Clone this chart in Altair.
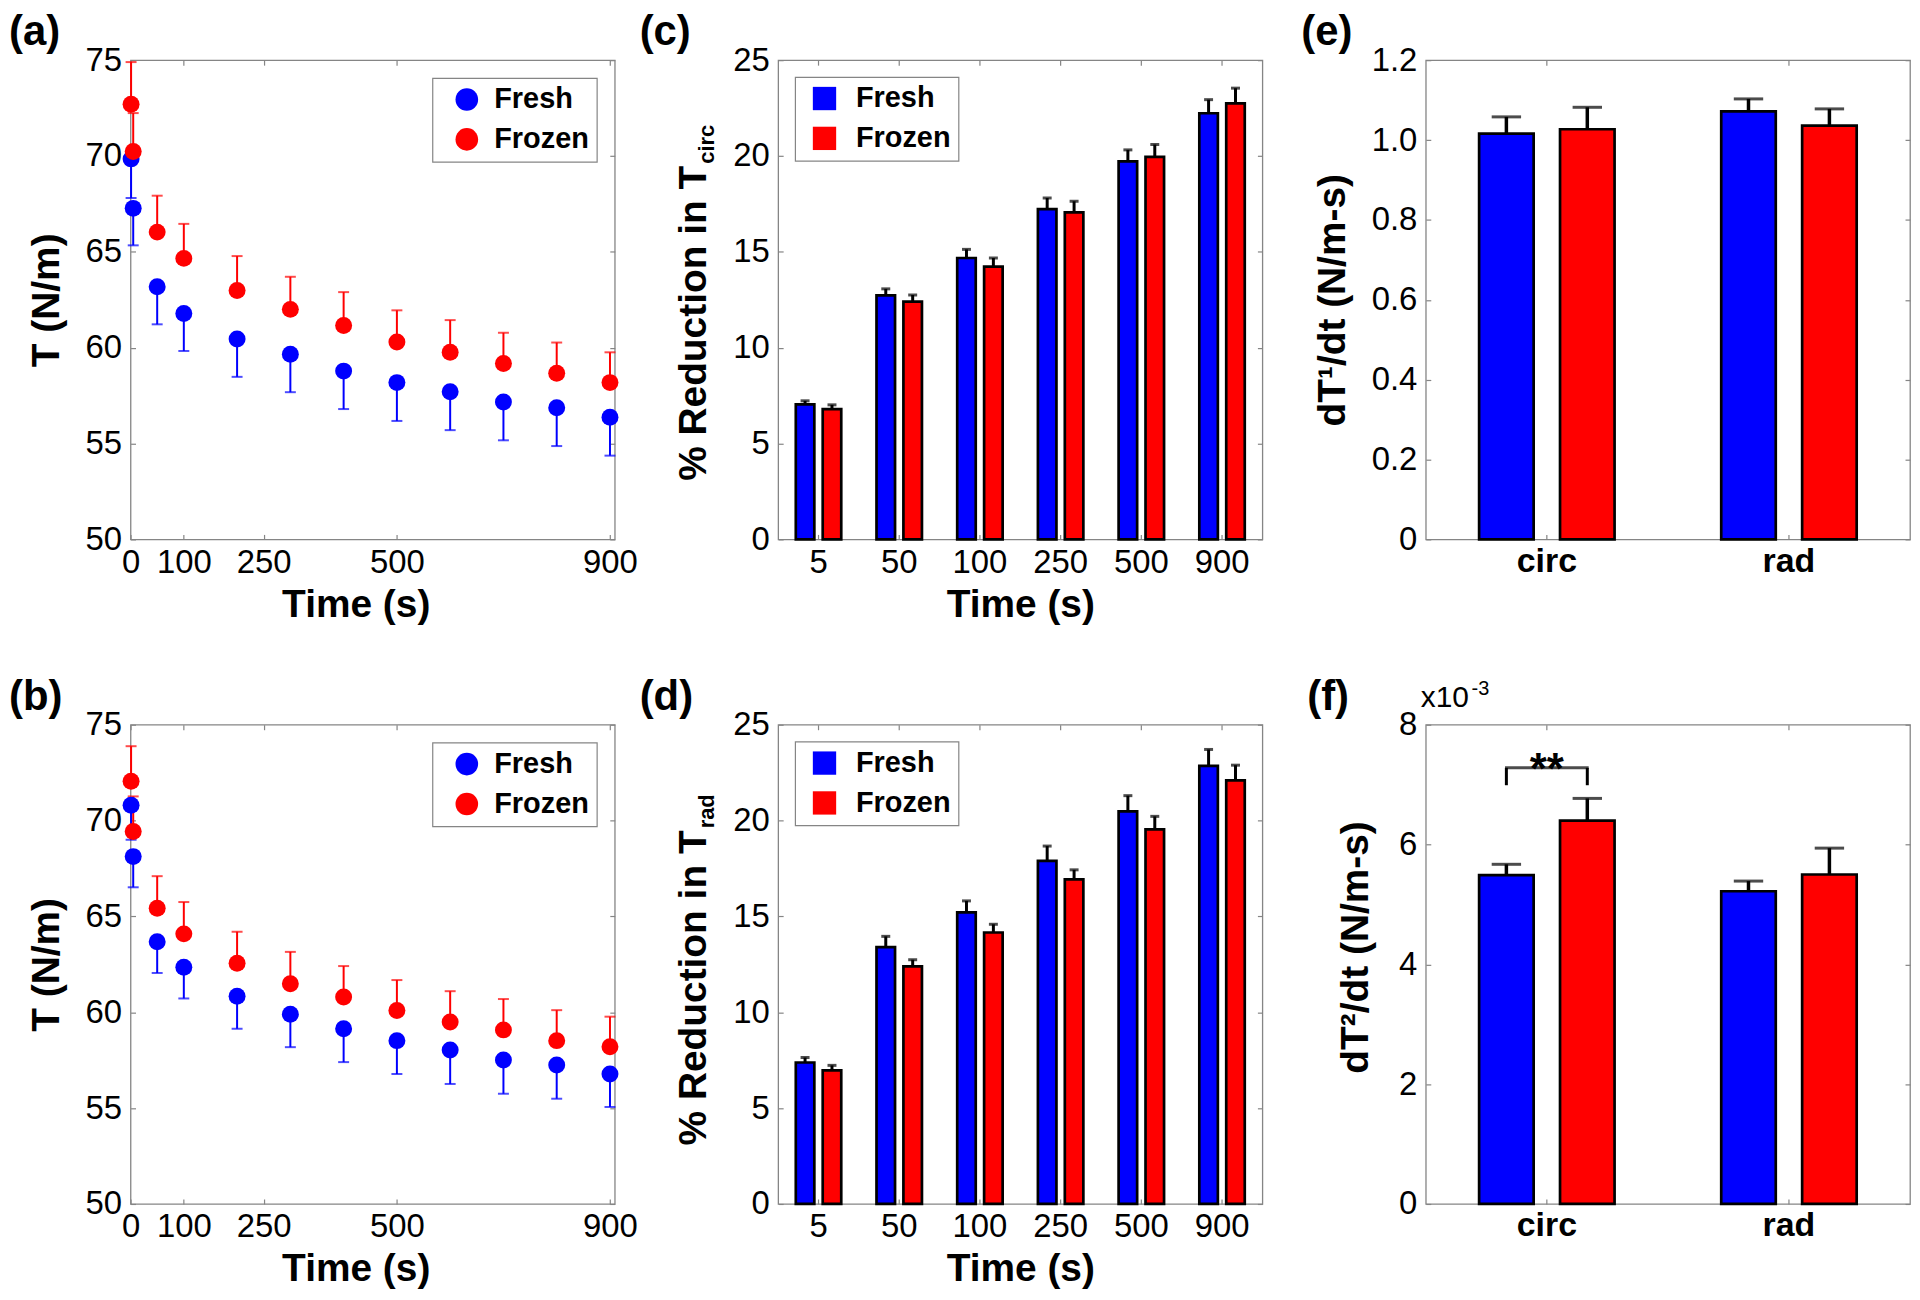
import altair as alt
import pandas as pd

FONT = "Liberation Sans"
GRAY = "#858585"
BLUE = "#0000FF"
RED = "#FF0000"
CONDS = ["Fresh", "Frozen"]
W, H = 486, 481
TICK_FONT = 33

# ---------------- data ----------------
scatter_time = [1, 5, 50, 100, 200, 300, 400, 500, 600, 700, 800, 900]
scatter_xticks = [0, 100, 250, 500, 900]
scatter_yticks = [50, 55, 60, 65, 70, 75]

a_fresh = [69.85, 67.27, 63.18, 61.78, 60.45, 59.66, 58.78, 58.18, 57.70, 57.17, 56.87, 56.37]
a_fresh_err = [2.04, 1.93, 1.96, 1.95, 1.97, 1.98, 1.98, 2.00, 2.00, 2.00, 2.00, 2.00]
a_frozen = [72.70, 70.24, 66.03, 64.66, 62.98, 62.00, 61.16, 60.30, 59.76, 59.18, 58.67, 58.18]
a_frozen_err = [2.20, 2.00, 1.90, 1.80, 1.80, 1.70, 1.74, 1.65, 1.68, 1.60, 1.60, 1.58]

b_fresh = [70.80, 68.12, 63.68, 62.35, 60.84, 59.90, 59.14, 58.52, 58.03, 57.51, 57.25, 56.78]
b_fresh_err = [1.80, 1.60, 1.63, 1.63, 1.70, 1.72, 1.74, 1.74, 1.77, 1.76, 1.76, 1.72]
b_frozen = [72.05, 69.43, 65.43, 64.09, 62.56, 61.49, 60.80, 60.09, 59.49, 59.08, 58.52, 58.20]
b_frozen_err = [1.83, 1.83, 1.67, 1.66, 1.64, 1.66, 1.61, 1.59, 1.61, 1.61, 1.59, 1.57]

bar_times = ["5", "50", "100", "250", "500", "900"]
bar_yticks = [0, 5, 10, 15, 20, 25]

c_fresh = [7.04, 12.73, 14.68, 17.23, 19.72, 22.23]
c_fresh_err = [0.19, 0.34, 0.45, 0.58, 0.60, 0.71]
c_frozen = [6.80, 12.40, 14.23, 17.06, 19.96, 22.75]
c_frozen_err = [0.22, 0.35, 0.45, 0.58, 0.64, 0.79]

d_fresh = [7.38, 13.40, 15.21, 17.90, 20.48, 22.85]
d_fresh_err = [0.26, 0.56, 0.60, 0.77, 0.82, 0.86]
d_frozen = [6.97, 12.39, 14.16, 16.93, 19.54, 22.10]
d_frozen_err = [0.26, 0.35, 0.43, 0.50, 0.68, 0.79]

dirs = ["circ", "rad"]
e_yticks = [0, 0.2, 0.4, 0.6, 0.8, 1.0, 1.2]
e_fresh = [1.016, 1.072]
e_fresh_err = [0.042, 0.031]
e_frozen = [1.027, 1.036]
e_frozen_err = [0.055, 0.042]

f_yticks = [0, 2, 4, 6, 8]          # in units of 1e-3
f_fresh = [5.49, 5.22]
f_fresh_err = [0.18, 0.17]
f_frozen = [6.40, 5.50]
f_frozen_err = [0.37, 0.44]

sig_dir = "circ"
sig_low = 6.99
sig_high = 7.28
sig_text = "**"

panel_names = ["(a)", "(b)", "(c)", "(d)", "(e)", "(f)"]


# ---------------- helpers ----------------
def inner_axis(orient, values=None, band=False):
    kw = dict(orient=orient, labels=False, title=None, domain=False, grid=False,
              ticks=True, tickSize=5, tickColor=GRAY, tickWidth=1.2, offset=-5)
    if values is not None:
        kw["values"] = values
    if band:
        kw["bandPosition"] = 0.5
    return alt.Axis(**kw)


def label_axis(orient, title=None, values=None, band=False, size=TICK_FONT, bold=False,
               pad=10, title_pad=10, **extra):
    kw = dict(orient=orient, ticks=False, tickSize=0, domain=False, grid=False,
              labelFontSize=size, labelPadding=pad, labelFont=FONT, labelColor="black",
              labelFlush=False, labelOverlap=False,
              labelFontWeight="bold" if bold else "normal",
              titleFont=FONT, titleFontSize=39, titleFontWeight="bold",
              titleColor="black", titlePadding=title_pad, title=title)
    if values is not None:
        kw["values"] = values
    if band:
        kw["bandPosition"] = 0.5
        kw["labelAngle"] = 0
    kw.update(extra)
    return alt.Axis(**kw)


def text_layer(txt, x, y, size, bold=True, align="left", angle=None):
    df = pd.DataFrame({"s": [txt]})
    mk = dict(font=FONT, fontSize=size, fontWeight="bold" if bold else "normal",
              align=align, baseline="alphabetic", color="black")
    if angle is not None:
        mk["angle"] = angle
    return alt.Chart(df).mark_text(**mk).encode(
        text="s:N", x=alt.value(x), y=alt.value(y))


def legend_def(orient, offset, shape, size, sym_off, lab_off):
    return alt.Legend(title=None, orient=orient, offset=offset, symbolType=shape,
                      symbolSize=size, symbolOffset=sym_off, labelOffset=lab_off,
                      labelExpr="datum.label + '\u00a0\u00a0'")


# ---------------- scatter panels (a), (b) ----------------
def scatter_panel(fresh, fresh_err, frozen, frozen_err, name):
    n = len(scatter_time)
    df = pd.DataFrame({
        "t": scatter_time * 2,
        "cond": ["Fresh"] * n + ["Frozen"] * n,
        "T": fresh + frozen,
        "err": fresh_err + frozen_err,
    })
    df["lo"] = df["T"] - df["err"]
    df["hi"] = df["T"] + df["err"]
    xs = alt.Scale(domain=[0, 909], nice=False, zero=False)
    ys = alt.Scale(domain=[50, 75], nice=False, zero=False)
    base = alt.Chart(df)
    fr = base.transform_filter(alt.datum.cond == "Fresh")
    fz = base.transform_filter(alt.datum.cond == "Frozen")
    X0 = alt.X("t:Q", scale=xs, axis=None)

    fresh_rule = fr.mark_rule(color=BLUE, strokeWidth=2).encode(
        x=X0, y=alt.Y("lo:Q", scale=ys, axis=None), y2="T:Q")
    fresh_cap = fr.mark_tick(color=BLUE, orient="horizontal", size=11, thickness=2).encode(
        x=X0, y=alt.Y("lo:Q", scale=ys, axis=None))
    frozen_rule = fz.mark_rule(color=RED, strokeWidth=2).encode(
        x=X0, y=alt.Y("T:Q", scale=ys, axis=None), y2="hi:Q")
    frozen_cap = fz.mark_tick(color=RED, orient="horizontal", size=11, thickness=2).encode(
        x=X0, y=alt.Y("hi:Q", scale=ys, axis=None))

    pts = base.mark_circle(size=289, opacity=1).encode(
        x=alt.X("t:Q", scale=xs,
                axis=label_axis("bottom", title="Time (s)", values=scatter_xticks,
                                pad=7, title_pad=6, titleX=226)),
        y=alt.Y("T:Q", scale=ys,
                axis=label_axis("left", title="T (N/m)", values=scatter_yticks,
                                pad=9, title_pad=19)),
        color=alt.Color("cond:N", scale=alt.Scale(domain=CONDS, range=[BLUE, RED]),
                        legend=legend_def("top-right", 18, "circle", 515, 13, 13)),
    )
    tick_bl = base.mark_point(opacity=0).encode(
        x=alt.X("t:Q", scale=xs, axis=inner_axis("bottom", scatter_xticks)),
        y=alt.Y("T:Q", scale=ys, axis=inner_axis("left", scatter_yticks)))
    tick_tr = base.mark_point(opacity=0).encode(
        x=alt.X("t:Q", scale=xs, axis=inner_axis("top", scatter_xticks)),
        y=alt.Y("T:Q", scale=ys, axis=inner_axis("right", scatter_yticks)))
    lab = text_layer(name, -122, -15, 42)
    return alt.layer(fresh_rule, fresh_cap, frozen_rule, frozen_cap, pts,
                     tick_bl, tick_tr, lab).resolve_axis(
        x="independent", y="independent").properties(width=W, height=H)


# ---------------- bar panels ----------------
def bar_panel(cats, fresh, fresh_err, frozen, frozen_err, name, name_x, ydomain, yticks,
              kind, sub=None):
    n = len(cats)
    df = pd.DataFrame({
        "cat": cats * 2,
        "cond": ["Fresh"] * n + ["Frozen"] * n,
        "val": fresh + frozen,
        "err": fresh_err + frozen_err,
    })
    df["hi"] = df["val"] + df["err"]
    xs = alt.Scale(domain=cats, paddingInner=0, paddingOuter=0)
    if kind == "time":
        offs = alt.Scale(domain=CONDS, paddingInner=0.311, paddingOuter=0.655)
        cap, stem = 9, 3
    else:
        offs = alt.Scale(domain=CONDS, paddingInner=0.326, paddingOuter=0.659)
        cap, stem = 29.5, 3.5
    ys = alt.Scale(domain=ydomain, nice=False, zero=True)
    base = alt.Chart(df)
    XO = alt.XOffset("cond:N", scale=offs)
    X0 = alt.X("cat:N", scale=xs, axis=None)

    if kind == "time":
        xax = label_axis("bottom", title="Time (s)", band=True, pad=7, title_pad=6)
        yax = label_axis("left", title=None, values=yticks, pad=9)
        leg = legend_def("top-left", 17, "square", 548, 8, 17)
    else:
        xax = label_axis("bottom", title=None, band=True, size=34, bold=True, pad=5)
        if kind == "e":
            yax = label_axis("left", title="dT\u00b9/dt (N/m-s)", values=yticks, pad=9,
                             title_pad=19,
                             labelExpr="datum.value == 0 ? '0' : format(datum.value, '.1f')")
        else:
            yax = label_axis("left", title="dT\u00b2/dt (N/m-s)", values=yticks, pad=9,
                             title_pad=23, titleY=223)
        leg = None

    color_kw = dict(scale=alt.Scale(domain=CONDS, range=[BLUE, RED]))
    color_kw["legend"] = leg

    fill = base.mark_bar().encode(
        x=alt.X("cat:N", scale=xs, axis=xax), xOffset=XO,
        y=alt.Y("val:Q", scale=ys, stack=None, axis=yax),
        color=alt.Color("cond:N", **color_kw))
    outline = base.mark_bar(fillOpacity=0, stroke="black", strokeWidth=2.7).encode(
        x=X0, xOffset=XO, y=alt.Y("val:Q", scale=ys, stack=None, axis=None))
    rule = base.mark_rule(color="black", strokeWidth=stem).encode(
        x=X0, xOffset=XO, y=alt.Y("val:Q", scale=ys, axis=None), y2="hi:Q")
    capm = base.mark_tick(color="black", orient="horizontal", size=cap, thickness=3).encode(
        x=X0, xOffset=XO, y=alt.Y("hi:Q", scale=ys, axis=None))
    tick_bl = base.mark_point(opacity=0).encode(
        x=alt.X("cat:N", scale=xs, axis=inner_axis("bottom", band=True)),
        y=alt.Y("val:Q", scale=ys, axis=inner_axis("left", yticks)))
    tick_tr = base.mark_point(opacity=0).encode(
        x=alt.X("cat:N", scale=xs, axis=inner_axis("top", band=True)),
        y=alt.Y("val:Q", scale=ys, axis=inner_axis("right", yticks)))
    layers = [fill, outline, rule, capm, tick_bl, tick_tr,
              text_layer(name, name_x, -15, 42)]

    if kind == "time":
        layers.append(text_layer("% Reduction in T", -72, 106, 39, angle=270, align="right"))
        layers.append(text_layer(sub, -64, 104, 22, angle=270, align="left"))
    if kind == "f":
        layers.append(text_layer("x10", -5, -18, 30, bold=False))
        layers.append(text_layer("-3", 46, -30, 20, bold=False))
        sig_leg = pd.DataFrame({"cat": [sig_dir, sig_dir], "cond": CONDS,
                                "lo": [sig_low, sig_low], "hi": [sig_high, sig_high]})
        sig_top = pd.DataFrame({"cat": [sig_dir], "hi": [sig_high], "s": [sig_text]})
        layers.append(alt.Chart(sig_leg).mark_rule(color="black", strokeWidth=3).encode(
            x=X0, xOffset=XO, y=alt.Y("lo:Q", scale=ys, axis=None), y2="hi:Q"))
        layers.append(alt.Chart(sig_top).mark_tick(color="black", orient="horizontal",
                                                   size=84, thickness=3).encode(
            x=X0, y=alt.Y("hi:Q", scale=ys, axis=None)))
        layers.append(alt.Chart(sig_top).mark_text(font=FONT, fontSize=44, fontWeight="bold",
                                                   baseline="alphabetic", dy=16,
                                                   color="black").encode(
            x=X0, y=alt.Y("hi:Q", scale=ys, axis=None), text="s:N"))

    return alt.layer(*layers).resolve_axis(
        x="independent", y="independent").properties(width=W, height=H)


pa = scatter_panel(a_fresh, a_fresh_err, a_frozen, a_frozen_err, panel_names[0])
pb = scatter_panel(b_fresh, b_fresh_err, b_frozen, b_frozen_err, panel_names[1])
pc = bar_panel(bar_times, c_fresh, c_fresh_err, c_frozen, c_frozen_err, panel_names[2], -139,
               [0, 25], bar_yticks, "time", sub="circ")
pdd = bar_panel(bar_times, d_fresh, d_fresh_err, d_frozen, d_frozen_err, panel_names[3], -139,
                [0, 25], bar_yticks, "time", sub="rad")
pe = bar_panel(dirs, e_fresh, e_fresh_err, e_frozen, e_frozen_err, panel_names[4], -125,
               [0, 1.2], e_yticks, "e")
pf = bar_panel(dirs, f_fresh, f_fresh_err, f_frozen, f_frozen_err, panel_names[5], -119,
               [0, 8], f_yticks, "f")

chart = alt.concat(pa, pc, pe, pb, pdd, pf, columns=3,
                   spacing={"row": 186, "column": 164}, bounds="flush").resolve_scale(
    color="independent", xOffset="independent").properties(
    padding=0, background="white").configure_view(
    stroke=GRAY, strokeWidth=1.3).configure_axis(
    labelFont=FONT, titleFont=FONT).configure_legend(
    strokeColor=GRAY, strokeWidth=1.2, fillColor="white", padding=7, rowPadding=10,
    labelFont=FONT, labelFontSize=29, labelFontWeight="bold", labelColor="black",
    symbolStrokeWidth=0, cornerRadius=0, labelLimit=400)

chart.save("out.html", embed_options={"renderer": "svg", "actions": False})
